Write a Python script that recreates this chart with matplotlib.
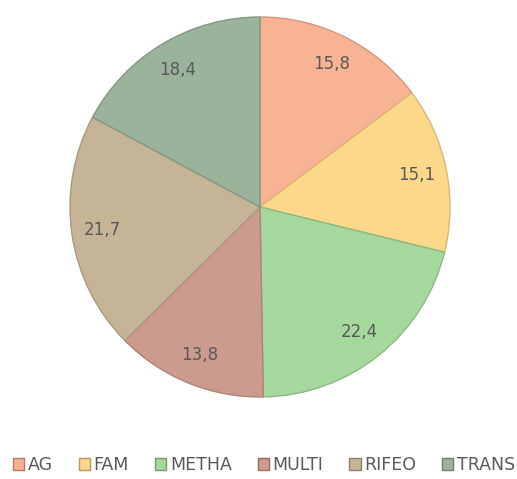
import matplotlib
matplotlib.use("Agg")
import matplotlib.pyplot as plt
import matplotlib.colors as mcolors

# data (values are shown with a decimal comma)
categories = ['AG', 'FAM', 'METHA', 'MULTI', 'RIFEO', 'TRANS']
values = [15.8, 15.1, 22.4, 13.8, 21.7, 18.4]
colors = ['#f7b394', '#fdd88a', '#a5d89c', '#cd9b8e', '#c6b497', '#9ab39a']

TEXT_COLOR = '#595959'


def darker(c, f=0.8):
    r, g, b = mcolors.to_rgb(c)
    return (r * f, g * f, b * f)


W, H, DPI = 517, 479, 100
fig = plt.figure(figsize=(W / DPI, H / DPI), dpi=DPI)
fig.patch.set_facecolor('white')

# pie centre ~ (260, 207) px from top-left, radius ~190 px
cx, cy, r = 260, 207, 190
ax = fig.add_axes([(cx - r) / W, (H - cy - r) / H, 2 * r / W, 2 * r / H])

labels = [f"{v:.1f}".replace('.', ',') for v in values]
wedges, texts = ax.pie(values, labels=labels, colors=colors, startangle=90,
                       counterclock=False, labeldistance=0.84,
                       wedgeprops=dict(linewidth=1.0),
                       textprops=dict(color=TEXT_COLOR, fontsize=12))
for w, c in zip(wedges, colors):
    w.set_edgecolor(darker(c, 0.85))
for t in texts:
    t.set_ha('center')
    t.set_va('center')
ax.set_xlim(-1, 1)
ax.set_ylim(-1, 1)
ax.set_aspect('equal')
ax.axis('off')

handles = [plt.Rectangle((0, 0), 1, 1, facecolor=c, edgecolor=darker(c, 0.7), linewidth=1.0)
           for c in colors]
leg = fig.legend(handles, categories, loc='center', ncol=6,
                 bbox_to_anchor=(264 / W, 1 - 465 / H), frameon=False,
                 fontsize=12.5, handlelength=0.65, handleheight=0.65,
                 handletextpad=0.2, columnspacing=1.5, borderaxespad=0)
for t in leg.get_texts():
    t.set_color(TEXT_COLOR)

fig.savefig('out.png', dpi=DPI, facecolor='white')
